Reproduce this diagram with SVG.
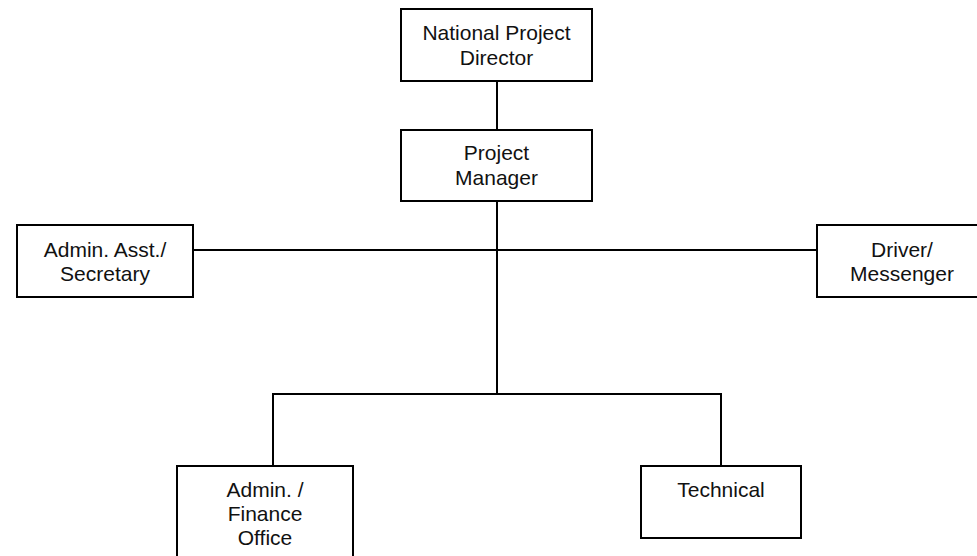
<svg xmlns="http://www.w3.org/2000/svg" width="977" height="556" viewBox="0 0 977 556">
<style>
.box{fill:#fff;stroke:#000;stroke-width:2}
.lbl{font-family:"Liberation Sans",Arial,sans-serif;font-size:21px;fill:#111;text-anchor:middle}
.con{fill:none;stroke:#000;stroke-width:2}
</style>
<rect width="977" height="556" fill="#fff"/>
<g id="connectors">
<line class="con" x1="497" y1="81" x2="497" y2="130"/>
<line class="con" x1="497" y1="201" x2="497" y2="394"/>
<line class="con" x1="193" y1="250" x2="817" y2="250"/>
<polyline class="con" points="273,466 273,394 721,394 721,466"/>
</g>
<g id="npd">
<rect class="box" x="401" y="9" width="191" height="72"/>
<text class="lbl" x="496.5" y="40">National Project</text>
<text class="lbl" x="496.5" y="65">Director</text>
</g>
<g id="pm">
<rect class="box" x="401" y="130" width="191" height="71"/>
<text class="lbl" x="496.5" y="160">Project</text>
<text class="lbl" x="496.5" y="185">Manager</text>
</g>
<g id="admin-asst">
<rect class="box" x="17" y="225" width="176" height="72"/>
<text class="lbl" x="105" y="257">Admin. Asst./</text>
<text class="lbl" x="105" y="281">Secretary</text>
</g>
<g id="driver">
<rect class="box" x="817" y="225" width="176" height="72"/>
<text class="lbl" x="902" y="257">Driver/</text>
<text class="lbl" x="902" y="281">Messenger</text>
</g>
<g id="admin-finance">
<rect class="box" x="177" y="466" width="176" height="100"/>
<text class="lbl" x="265" y="497">Admin. /</text>
<text class="lbl" x="265" y="521">Finance</text>
<text class="lbl" x="265" y="545">Office</text>
</g>
<g id="technical">
<rect class="box" x="641" y="466" width="160" height="72"/>
<text class="lbl" x="721" y="497">Technical</text>
</g>
</svg>
